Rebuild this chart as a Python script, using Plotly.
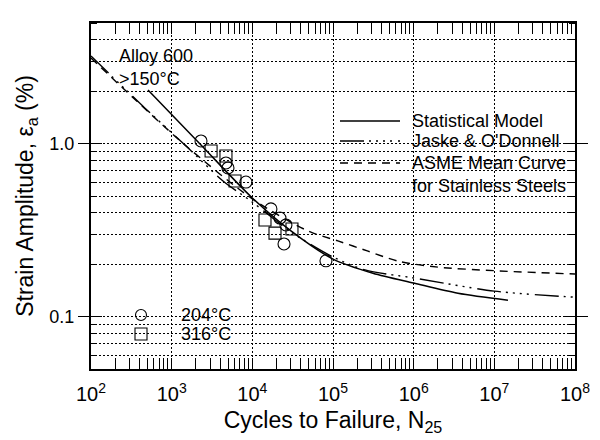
import plotly.graph_objects as go

# ---------------- data ----------------
stat_N = [509, 2310, 10000, 30100, 100000, 313000, 1.0e6, 3.54e6, 1.476e7]
stat_e = [2.05, 0.986, 0.487, 0.314, 0.216, 0.179, 0.157, 0.137, 0.125]

jaske_N = [100, 272, 467, 1462, 4330, 10000, 30100, 100000, 2.49e5, 1.0e6, 1.0e7, 1.0e8]
jaske_e = [3.22, 2.05, 1.61, 0.986, 0.611, 0.461, 0.310, 0.222, 0.187, 0.168, 0.141, 0.130]

asme_N = [100, 272, 1462, 10000, 49000, 1.15e5, 2.72e5, 6.4e5, 2.0e6, 1.0e7, 1.0e8]
asme_e = [3.14, 2.02, 0.986, 0.481, 0.314, 0.275, 0.240, 0.210, 0.194, 0.185, 0.177]

c204_N = [2310, 4710, 4990, 8340, 17000, 22000, 26100, 24700, 81800]
c204_e = [1.04, 0.776, 0.726, 0.602, 0.421, 0.373, 0.340, 0.264, 0.211]

s316_N = [3080, 4710, 6100, 14350, 19100, 31000]
s316_e = [0.91, 0.851, 0.61, 0.363, 0.305, 0.322]

x_ticks = [1e2, 1e3, 1e4, 1e5, 1e6, 1e7, 1e8]
x_ticktext = ["10<sup>%d</sup>" % k for k in range(2, 9)]
x_minor = [m * 10 ** d for d in range(2, 8) for m in range(2, 10)]
y_ticks = [0.1, 1.0]
y_ticktext = ["0.1", "1.0"]
y_minor = [0.06, 0.07, 0.08, 0.09, 0.2, 0.3, 0.4, 0.5, 0.6, 0.7, 0.8, 0.9, 2, 3, 4, 5]

legend_lines = ["Statistical Model", "Jaske & O'Donnell", "ASME Mean Curve<br>for Stainless Steels"]
legend_marks = ["204°C", "316°C"]

FONT = "Liberation Sans, Arial, Helvetica, sans-serif"
JASKE_DASH = "24px,5px,2px,5px,2px,5px,2px,5px,2px,6px"
ASME_DASH = "8px,6px"
Y_RANGE = [-1.30103, 0.69897]

fig = go.Figure()
fig.add_trace(go.Scatter(x=asme_N, y=asme_e, mode="lines", hoverinfo="skip",
                         line=dict(color="black", width=1.4, dash=ASME_DASH, shape="spline", smoothing=0.8)))
fig.add_trace(go.Scatter(x=jaske_N, y=jaske_e, mode="lines", hoverinfo="skip",
                         line=dict(color="black", width=1.4, dash=JASKE_DASH, shape="spline", smoothing=0.8)))
fig.add_trace(go.Scatter(x=stat_N, y=stat_e, mode="lines", hoverinfo="skip",
                         line=dict(color="black", width=1.5, shape="spline", smoothing=0.8)))
fig.add_trace(go.Scatter(x=c204_N, y=c204_e, mode="markers",
                         marker=dict(symbol="circle-open", size=12, color="black", line=dict(width=1.1))))
fig.add_trace(go.Scatter(x=s316_N, y=s316_e, mode="markers",
                         marker=dict(symbol="square-open", size=12, color="black", line=dict(width=1.1))))
# empty trace so the companion axis (inward half of major y ticks) is drawn
fig.add_trace(go.Scatter(x=[], y=[], yaxis="y2", mode="lines", hoverinfo="skip"))

# plot-area pixel helpers for legend placement (paper coordinates)
L, R, T, B = 83, 567, 15, 361
def px(x):
    return (x - L) / (R - L)
def py(y):
    return (B - y) / (B - T)

shapes = []
ann = []
# line legend (top right)
for yy, dash in zip([113, 133, 155], ["solid", JASKE_DASH, ASME_DASH]):
    shapes.append(dict(type="line", xref="paper", yref="paper", x0=px(332), x1=px(392),
                       y0=py(yy), y1=py(yy), line=dict(color="black", width=1.4, dash=dash)))
for txt, yy in zip(legend_lines, [113, 133, 166.5]):
    ann.append(dict(text=txt, xref="paper", yref="paper", x=px(402), y=py(yy),
                    xanchor="left", yanchor="middle", showarrow=False, align="left",
                    font=dict(size=18, color="black", family=FONT)))
# marker legend (bottom left)
shapes.append(dict(type="circle", xref="paper", yref="paper", x0=px(127.5), x1=px(138.5),
                   y0=py(312.5), y1=py(301.5), line=dict(color="black", width=1.1)))
shapes.append(dict(type="rect", xref="paper", yref="paper", x0=px(127), x1=px(139),
                   y0=py(332), y1=py(320), line=dict(color="black", width=1.1)))
for txt, yy in zip(legend_marks, [307, 326]):
    ann.append(dict(text=txt, xref="paper", yref="paper", x=px(171), y=py(yy),
                    xanchor="left", yanchor="middle", showarrow=False,
                    font=dict(size=18, color="black", family=FONT)))
# curve label
ann.append(dict(text="Alloy 600<br>>150°C", xref="paper", yref="paper", x=px(109), y=py(59),
                xanchor="left", yanchor="middle", showarrow=False, align="left",
                font=dict(size=18, color="black", family=FONT)))

fig.update_layout(
    width=600, height=440,
    margin=dict(l=L, r=600 - R, t=T, b=440 - B, autoexpand=False),
    paper_bgcolor="white", plot_bgcolor="white",
    showlegend=False,
    font=dict(family=FONT, color="black"),
    shapes=shapes, annotations=ann,
    xaxis=dict(
        type="log", range=[2, 8], tickvals=x_ticks, ticktext=x_ticktext, automargin=False,
        ticks="inside", ticklen=11, tickwidth=1.2, tickcolor="black", ticklabelstandoff=6,
        showline=True, linewidth=2, linecolor="black", mirror="allticks",
        showgrid=True, gridcolor="black", gridwidth=1, griddash="2px,2px",
        zeroline=False,
        minor=dict(tickvals=x_minor, ticks="inside", ticklen=6, tickwidth=1.2, tickcolor="black",
                   showgrid=False),
        tickfont=dict(size=20, family=FONT),
        title=dict(text="Cycles to Failure, N<sub>25</sub>", font=dict(size=23, family=FONT), standoff=8),
    ),
    yaxis=dict(
        type="log", range=Y_RANGE, tickvals=y_ticks, ticktext=y_ticktext, automargin=False,
        ticks="outside", ticklen=11, tickwidth=1.2, tickcolor="black",
        showline=True, linewidth=2, linecolor="black", mirror="allticks",
        showgrid=True, gridcolor="black", gridwidth=1, griddash="2px,2px",
        zeroline=False,
        minor=dict(tickvals=y_minor, ticks="inside", ticklen=6, tickwidth=1.2, tickcolor="black",
                   showgrid=True, gridcolor="black", gridwidth=1, griddash="2px,2px"),
        tickfont=dict(size=18, family=FONT),
        title=dict(text="Strain Amplitude, ε<sub>a</sub> (%)", font=dict(size=23, family=FONT), standoff=9),
    ),
    yaxis2=dict(
        type="log", range=Y_RANGE, overlaying="y", anchor="x", side="left",
        tickvals=y_ticks, ticks="inside", ticklen=11, tickwidth=1.2, tickcolor="black",
        showticklabels=False, showgrid=False, zeroline=False, showline=False,
        mirror="allticks", automargin=False,
    ),
)

fig.write_html("out.html")
